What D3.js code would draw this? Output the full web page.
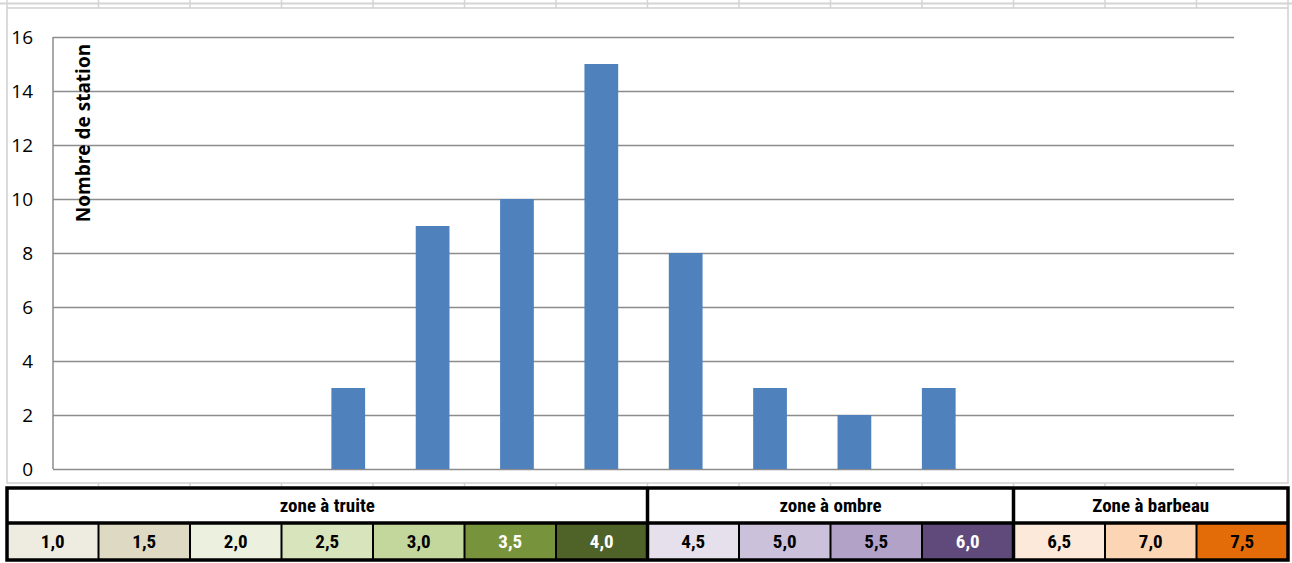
<!DOCTYPE html>
<html><head><meta charset="utf-8">
<script src="https://cdn.jsdelivr.net/npm/d3@7"></script>
<style>html,body{margin:0;padding:0;background:#fff;}svg{display:block;}</style>
</head><body>
<svg id="chart" width="1292" height="563"></svg>
<script>
const categories = ["1,0","1,5","2,0","2,5","3,0","3,5","4,0","4,5","5,0","5,5","6,0","6,5","7,0","7,5"];
const counts = [0,0,0,3,9,10,15,8,3,2,3,0,0,0];
const yTicks = [0,2,4,6,8,10,12,14,16];
const zones = [
  {label:"zone à truite", from:0, to:6},
  {label:"zone à ombre", from:7, to:10},
  {label:"Zone à barbeau", from:11, to:13}
];
const cellColors = ["#eeece1","#ddd9c3","#ebf1de","#d7e4bc","#c3d69b","#77933c","#4f6228","#e5e0ec","#ccc1da","#b3a2c7","#604a7b","#fde9d9","#fcd5b4","#e36c09"];
const cellText = ["#000","#000","#000","#000","#000","#fff","#fff","#000","#000","#000","#fff","#000","#000","#000"];

(function(){
const svg = d3.select("#chart");

// spreadsheet background hints
svg.append("line").attr("x1",0).attr("x2",1292).attr("y1",3.5).attr("y2",3.5).attr("stroke","#d4d4d4").attr("stroke-width",2);
const sheetCols = d3.range(0,15).map(i=>7+i*91.5);
svg.selectAll(".sc").data(sheetCols).join("line")
  .attr("x1",d=>d).attr("x2",d=>d).attr("y1",0).attr("y2",8).attr("stroke","#d4d4d4").attr("stroke-width",1.5);

// chart frame
svg.append("rect").attr("x",7).attr("y",8).attr("width",1281).attr("height",475)
  .attr("fill","#fff").attr("stroke","#d0d0d0").attr("stroke-width",1.5);
svg.selectAll(".bc").data(sheetCols.slice(1,14)).join("line")
  .attr("x1",d=>d).attr("x2",d=>d).attr("y1",483).attr("y2",486).attr("stroke","#d0d0d0").attr("stroke-width",1.5);

const pLeft = 53, pRight = 1234, pTop = 37, pBottom = 469;
const x = d3.scaleBand().domain(categories).range([pLeft,pRight]).paddingInner(0).paddingOuter(0);
const y = d3.scaleLinear().domain([0,16]).range([pBottom, pTop]);

// gridlines
const yAxis = d3.axisLeft(y).tickValues(yTicks).tickSize(-(pRight-pLeft)).tickFormat(d=>d).tickPadding(20);
const gy = svg.append("g").attr("transform",`translate(${pLeft},0)`).call(yAxis);
gy.select(".domain").remove();
gy.selectAll(".tick line").attr("stroke","#8c8c8c").attr("stroke-width",1.5).attr("x1",0);
gy.selectAll(".tick text").attr("font-family","'Open Sans', sans-serif").attr("font-size",19).attr("fill","#000");
svg.append("line").attr("x1",pLeft).attr("x2",pLeft).attr("y1",pTop).attr("y2",pBottom).attr("stroke","#8c8c8c").attr("stroke-width",1.5);

// bars
const bw = x.bandwidth()*0.4;
svg.selectAll(".bar").data(categories.map((c,i)=>({c,v:counts[i]})).filter(d=>d.v>0)).join("rect")
  .attr("x",d=>x(d.c)+(x.bandwidth()-bw)/2).attr("width",bw)
  .attr("y",d=>y(d.v)).attr("height",d=>y(0)-y(d.v)).attr("fill","#4f81bd");

// axis title
svg.append("text").attr("transform","translate(90,133) rotate(-90)")
  .attr("text-anchor","middle").attr("font-family","'Open Sans', sans-serif").attr("font-weight","bold")
  .attr("font-size",19).attr("fill","#000").text("Nombre de station");

// bottom table
const tx = d3.scaleBand().domain(d3.range(14)).range([7,1288]);
const r1 = 488, r2 = 523, r3 = 560;
const font = "'Liberation Sans Narrow','Arial Narrow','Roboto Condensed',sans-serif";
svg.selectAll(".cell").data(d3.range(14)).join("rect")
  .attr("x",i=>tx(i)).attr("y",r2).attr("width",tx.bandwidth()).attr("height",r3-r2)
  .attr("fill",i=>cellColors[i]);
svg.selectAll(".celltxt").data(d3.range(14)).join("text")
  .attr("x",i=>tx(i)+tx.bandwidth()/2).attr("y",(r2+r3)/2+6.5).attr("text-anchor","middle")
  .attr("font-family",font).attr("font-weight","bold").attr("font-size",19)
  .attr("fill",i=>cellText[i]).text(i=>categories[i]);
svg.selectAll(".celldiv").data(d3.range(1,14)).join("line")
  .attr("x1",i=>tx(i)).attr("x2",i=>tx(i)).attr("y1",r2).attr("y2",r3).attr("stroke","#000").attr("stroke-width",2);
svg.selectAll(".zonetxt").data(zones).join("text")
  .attr("x",z=>(tx(z.from)+tx(z.to)+tx.bandwidth())/2).attr("y",(r1+r2)/2+6.5).attr("text-anchor","middle")
  .attr("font-family",font).attr("font-weight","bold").attr("font-size",19).attr("fill","#000").text(z=>z.label);
svg.selectAll(".zonediv").data(zones.slice(1)).join("line")
  .attr("x1",z=>tx(z.from)).attr("x2",z=>tx(z.from)).attr("y1",r1).attr("y2",r3).attr("stroke","#000").attr("stroke-width",3.5);
svg.append("rect").attr("x",7).attr("y",r1).attr("width",1281).attr("height",r3-r1)
  .attr("fill","none").attr("stroke","#000").attr("stroke-width",3.5);
svg.append("line").attr("x1",7).attr("x2",1288).attr("y1",r2).attr("y2",r2).attr("stroke","#000").attr("stroke-width",3.5);
})();
</script>
</body></html>
